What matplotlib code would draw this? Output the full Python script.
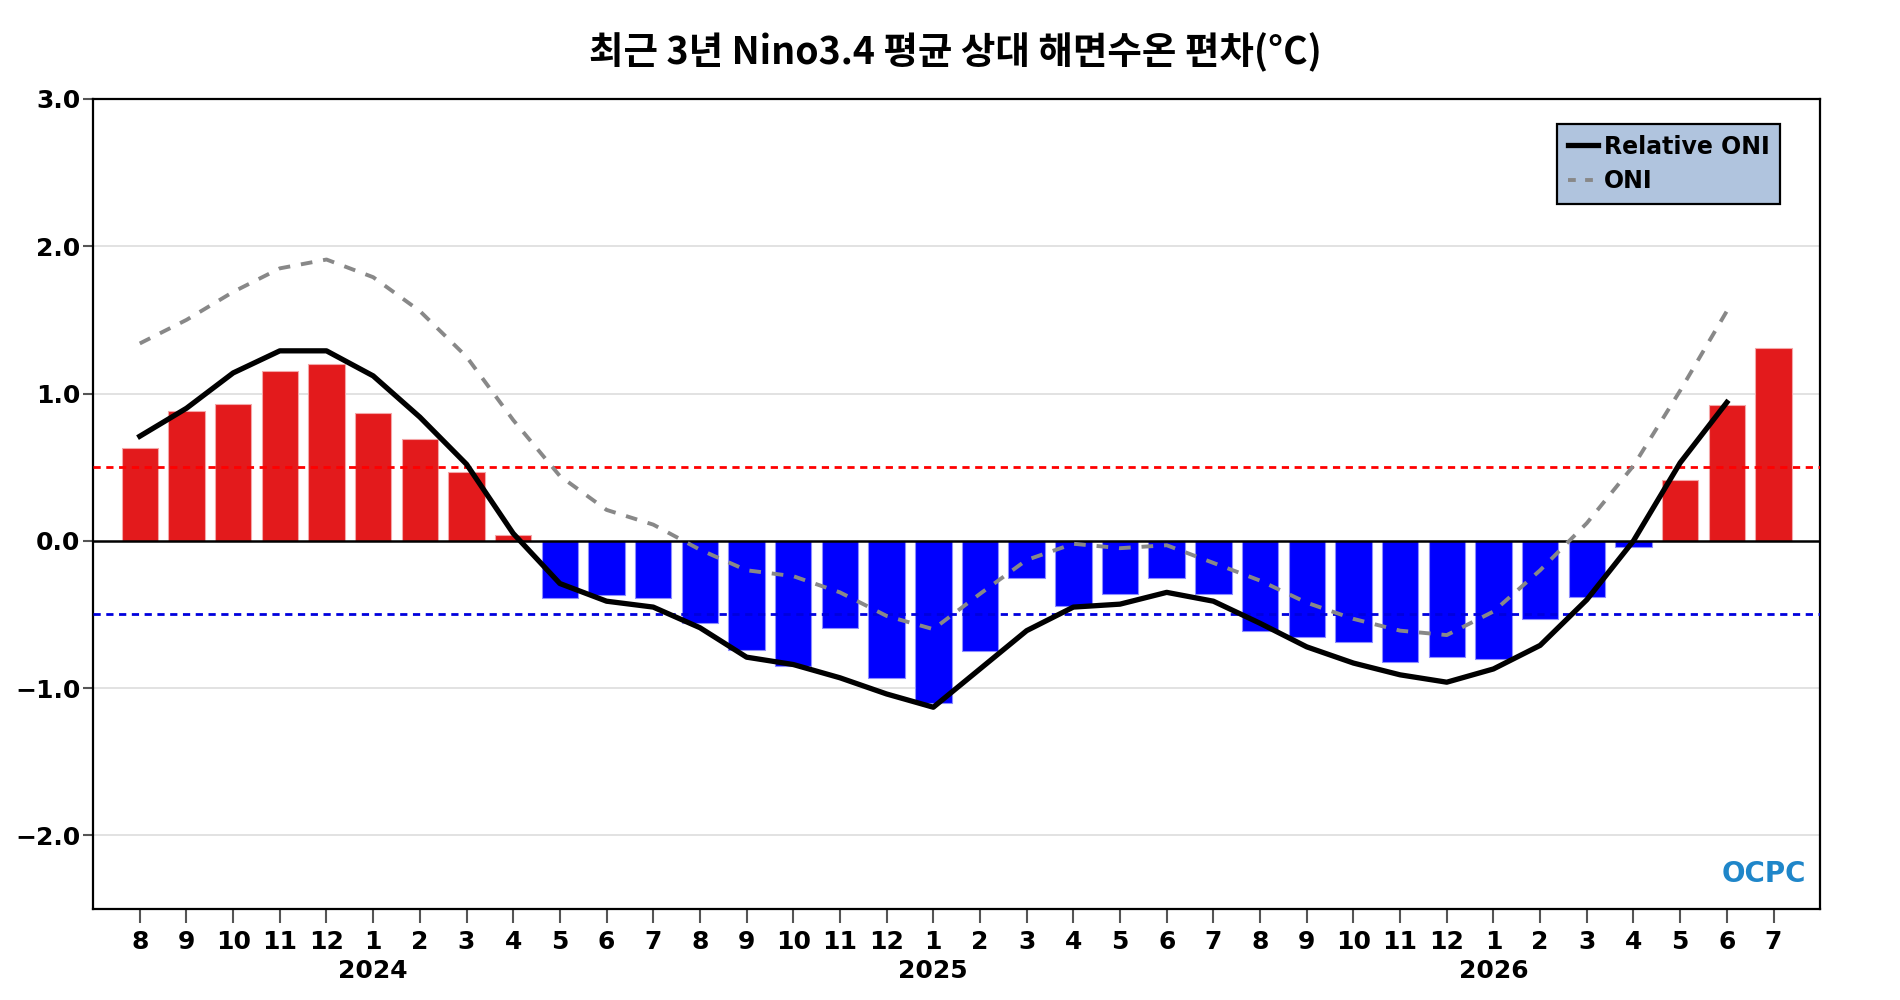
import matplotlib
matplotlib.use('Agg')
import matplotlib.pyplot as plt
import matplotlib.transforms as mtransforms
from matplotlib.lines import Line2D
import numpy as np

# 월 (2023.8 ~ 2026.7)
months = [8, 9, 10, 11, 12,
          1, 2, 3, 4, 5, 6, 7, 8, 9, 10, 11, 12,
          1, 2, 3, 4, 5, 6, 7, 8, 9, 10, 11, 12,
          1, 2, 3, 4, 5, 6, 7]
years = ['2024', '2025', '2026']

# 월별 상대 해면수온 편차 (막대)
anom = [0.63, 0.88, 0.93, 1.15, 1.20, 0.87, 0.69, 0.47, 0.04, -0.39,
        -0.37, -0.39, -0.56, -0.74, -0.85, -0.59, -0.93, -1.10, -0.75, -0.25,
        -0.44, -0.36, -0.25, -0.36, -0.61, -0.65, -0.69, -0.82, -0.79, -0.80,
        -0.53, -0.38, -0.04, 0.41, 0.92, 1.31]

# Relative ONI (3개월 이동평균)
rel_oni = [0.71, 0.90, 1.14, 1.29, 1.29, 1.12, 0.84, 0.52, 0.05, -0.29,
           -0.41, -0.45, -0.59, -0.79, -0.84, -0.93, -1.04, -1.13, -0.87, -0.61,
           -0.45, -0.43, -0.35, -0.41, -0.56, -0.72, -0.83, -0.91, -0.96, -0.87,
           -0.71, -0.40, 0.00, 0.53, 0.94]

# ONI
oni = [1.34, 1.50, 1.69, 1.85, 1.91, 1.79, 1.56, 1.25, 0.82, 0.44,
       0.21, 0.11, -0.06, -0.20, -0.24, -0.35, -0.51, -0.60, -0.36, -0.13,
       -0.02, -0.05, -0.03, -0.15, -0.27, -0.42, -0.53, -0.61, -0.64, -0.48,
       -0.20, 0.12, 0.51, 1.02, 1.56]

x = np.arange(len(months))
bar_colors = ['#e31a1c' if v >= 0 else '#0000ff' for v in anom]
edge_colors = ['#f4a6a8' if v >= 0 else '#8c8cff' for v in anom]

fig = plt.figure(figsize=(19, 10), dpi=100)
ax = fig.add_axes([0.049, 0.091, 0.909, 0.810])

ax.set_xlim(-1, 36)
ax.set_ylim(-2.5, 3.0)

for yg in [-2, -1, 1, 2]:
    ax.axhline(yg, color='#dddddd', lw=1.2, zorder=0)

ax.bar(x, anom, width=0.78, color=bar_colors, edgecolor=edge_colors,
       linewidth=0.8, zorder=2)

ax.axhline(0, color='black', lw=1.8, zorder=3)
ax.axhline(0.5, color='#ff0000', lw=2.0, ls=(0, (2.6, 2.0)), zorder=3)
ax.axhline(-0.5, color='#0000dd', lw=2.0, ls=(0, (2.6, 2.0)), zorder=3)

ax.plot(x[:len(oni)], oni, color='#888888', lw=2.8, ls=(0, (3, 2.8)), zorder=4)
ax.plot(x[:len(rel_oni)], rel_oni, color='black', lw=3.8, zorder=5)

# y축
yt = [-2, -1, 0, 1, 2, 3]
ax.set_yticks(yt)
ax.set_yticklabels([f'{v:.1f}'.replace('-', '\u2212') for v in yt],
                   fontsize=18, fontweight='bold')
ax.tick_params(axis='y', direction='out', length=7, width=1.5, color='#555555', pad=2)

# x축
ax.set_xticks(x)
ax.set_xticklabels([str(m) for m in months], fontsize=18, fontweight='bold')
ax.tick_params(axis='x', direction='out', length=10, width=1.5, color='#555555', pad=5)

trans = mtransforms.blended_transform_factory(ax.transData, fig.transFigure)
jan_pos = [i for i, m in enumerate(months) if m == 1]
for pos, yr in zip(jan_pos, years):
    ax.text(pos, 0.029, yr, transform=trans, ha='center', va='center',
            fontsize=18, fontweight='bold')

for sp in ax.spines.values():
    sp.set_linewidth(1.6)
    sp.set_color('black')

fig.text(0.503, 0.948, '최근 3년 Nino3.4 평균 상대 해면수온 편차(°C)',
         ha='center', va='center', fontsize=27, fontweight='heavy',
         family=['Noto Sans CJK KR', 'DejaVu Sans'])

handles = [Line2D([0], [0], color='black', lw=3.8),
           Line2D([0], [0], color='#888888', lw=2.8, ls=(0, (2, 2.4)))]
leg = ax.legend(handles, ['Relative ONI', 'ONI'], loc='upper right',
                bbox_to_anchor=(0.977, 0.969), borderaxespad=0,
                fancybox=False, framealpha=1, facecolor='#b0c4de',
                edgecolor='black', handlelength=1.3, handletextpad=0.25,
                labelspacing=0.45, borderpad=0.45,
                prop={'weight': 'bold', 'size': 17})
leg.get_frame().set_linewidth(1.6)

ax.text(34.8, -2.26, 'OCPC', ha='center', va='center', fontsize=20,
        fontweight='bold', color='#1f86c9', zorder=6)

fig.savefig('out.png', dpi=100, facecolor='white')
